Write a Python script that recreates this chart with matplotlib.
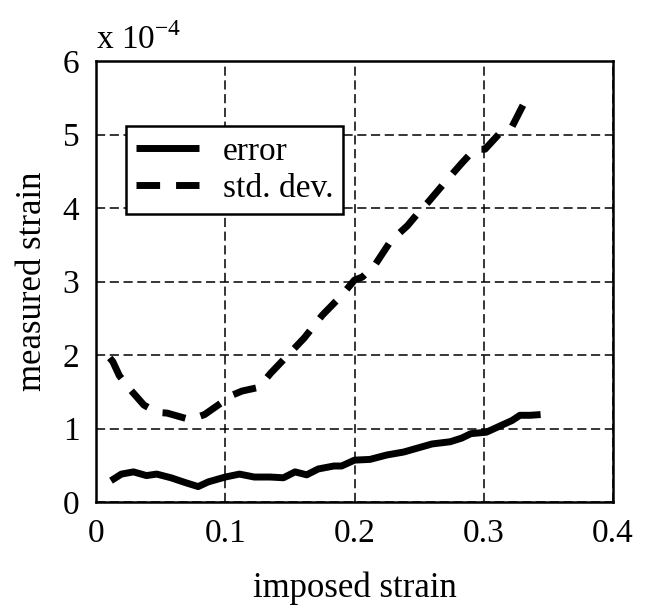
import matplotlib
matplotlib.use("Agg")
from matplotlib import pyplot as plt

# values, strain in units of 1e-4
err_x = [0.0116, 0.0196, 0.029, 0.039, 0.047, 0.058, 0.069, 0.079, 0.087, 0.10,
         0.111, 0.1225, 0.135, 0.145, 0.154, 0.163, 0.172, 0.184, 0.19, 0.2,
         0.212, 0.225, 0.238, 0.248, 0.26, 0.274, 0.283, 0.29, 0.302, 0.312,
         0.322, 0.328, 0.336, 0.344]
err_y = [0.29, 0.38, 0.41, 0.36, 0.38, 0.33, 0.265, 0.21, 0.275, 0.34,
         0.38, 0.34, 0.34, 0.33, 0.41, 0.37, 0.45, 0.49, 0.49, 0.57,
         0.58, 0.64, 0.68, 0.73, 0.79, 0.82, 0.87, 0.93, 0.95, 1.03,
         1.11, 1.18, 1.18, 1.19]

std_x = [0.0106, 0.013, 0.018, 0.026, 0.037, 0.047, 0.055, 0.065, 0.073, 0.084,
         0.097, 0.102, 0.113, 0.126, 0.135, 0.148, 0.161, 0.175, 0.19, 0.2,
         0.206, 0.216, 0.228, 0.241, 0.251, 0.257, 0.27, 0.283, 0.293, 0.301,
         0.312, 0.322, 0.331, 0.336, 0.341]
std_y = [1.96, 1.91, 1.72, 1.54, 1.32, 1.22, 1.21, 1.16, 1.12, 1.19,
         1.35, 1.43, 1.51, 1.56, 1.75, 1.99, 2.23, 2.54, 2.81, 3.02,
         3.06, 3.23, 3.55, 3.76, 3.97, 4.08, 4.35, 4.61, 4.80, 4.80,
         5.01, 5.11, 5.42, 5.45, 5.42]

x_ticks = [0, 0.1, 0.2, 0.3, 0.4]
x_ticklabels = ["0", "0.1", "0.2", "0.3", "0.4"]
y_ticks = [0, 1, 2, 3, 4, 5, 6]

plt.rcParams["font.family"] = ["Liberation Serif", "DejaVu Serif"]
plt.rcParams["mathtext.fontset"] = "custom"
plt.rcParams["mathtext.rm"] = "Liberation Serif"

fig = plt.figure(figsize=(6.51, 6.10), dpi=100)
ax = fig.add_axes([0.1475, 0.177, 0.7941, 0.723])

ax.plot(err_x, err_y, color="black", lw=5, solid_capstyle="butt", label="error")
ax.plot(std_x, std_y, color="black", lw=5, ls=(0, (3.4, 2.3)), dash_capstyle="butt",
        label="std. dev.")

ax.set_xlim(0, 0.4)
ax.set_ylim(0, 6)
ax.set_xticks(x_ticks)
ax.set_xticklabels(x_ticklabels)
ax.set_yticks(y_ticks)
ax.tick_params(labelsize=24, length=0)
ax.tick_params(axis="x", pad=12)
ax.tick_params(axis="y", pad=12)
ax.grid(True, color="black", ls=(0, (6, 3)), lw=1.1)
for s in ax.spines.values():
    s.set_linewidth(1.8)

ax.set_xlabel("imposed strain", fontsize=25, labelpad=16)
ax.set_ylabel("measured strain", fontsize=25, labelpad=10)
ax.text(0.0, 1.012, r"x 10$^{-4}$", transform=ax.transAxes, fontsize=24,
        ha="left", va="bottom")

leg = ax.legend(loc="upper left", bbox_to_anchor=(0.058, 0.852), fontsize=24,
                fancybox=False, framealpha=1, edgecolor="black",
                handlelength=1.9, handletextpad=0.7, borderpad=0.3,
                labelspacing=0.2, borderaxespad=0)
leg.get_frame().set_linewidth(1.8)

plt.savefig("out.png")
